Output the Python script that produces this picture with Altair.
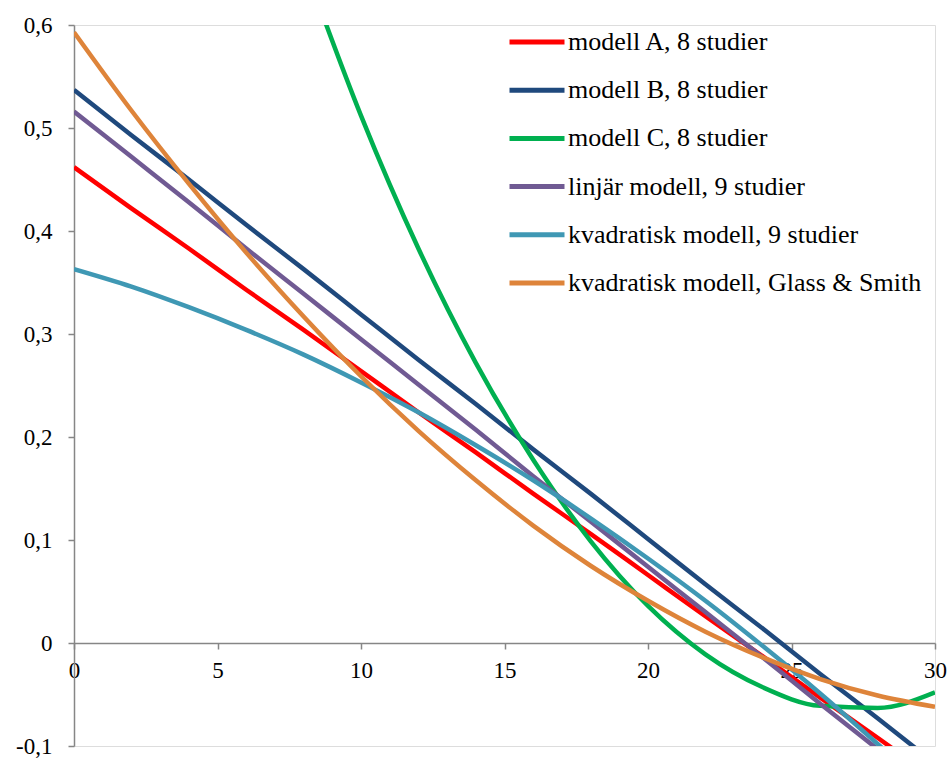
import altair as alt
import pandas as pd

x_vals = [0, 2, 4, 6, 8, 10, 12, 14, 16, 18, 20, 22, 24, 26, 28, 30]

modell_a = [0.462, 0.422, 0.383, 0.343, 0.304, 0.264, 0.224, 0.185, 0.145, 0.106, 0.066, 0.026, -0.013, -0.053, -0.092, -0.132]
modell_b = [0.537, 0.493, 0.450, 0.406, 0.363, 0.319, 0.275, 0.232, 0.188, 0.145, 0.101, 0.057, 0.014, -0.030, -0.073, -0.117]
x_c = [8, 10, 12, 14, 16, 18, 20, 22, 24, 26, 28, 30]
modell_c = [0.66, 0.512, 0.383, 0.272, 0.178, 0.099, 0.036, -0.011, -0.043, -0.061, -0.063, -0.048]
linjar = [0.516, 0.472, 0.428, 0.383, 0.339, 0.295, 0.251, 0.207, 0.162, 0.118, 0.074, 0.030, -0.014, -0.059, -0.103, -0.147]
kvadr9 = [0.363, 0.346, 0.326, 0.304, 0.280, 0.253, 0.224, 0.192, 0.158, 0.121, 0.082, 0.041, -0.003, -0.049, -0.098, -0.149]
glass = [0.593, 0.517, 0.446, 0.379, 0.317, 0.259, 0.206, 0.158, 0.114, 0.075, 0.041, 0.011, -0.014, -0.035, -0.051, -0.062]

names = [
    "modell A, 8 studier",
    "modell B, 8 studier",
    "modell C, 8 studier",
    "linjär modell, 9 studier",
    "kvadratisk modell, 9 studier",
    "kvadratisk modell, Glass & Smith",
]
colors = ["#FF0000", "#1F497D", "#00B050", "#705A93", "#3F98B4", "#DE843A"]

series = [
    (names[0], x_vals, modell_a),
    (names[1], x_vals, modell_b),
    (names[2], x_c, modell_c),
    (names[3], x_vals, linjar),
    (names[4], x_vals, kvadr9),
    (names[5], x_vals, glass),
]
rows = []
for i, (n, xs, ys) in enumerate(series):
    for xv, yv in zip(xs, ys):
        rows.append({"serie": n, "x": xv, "y": yv, "ord": i})
df = pd.DataFrame(rows)

W, H = 861, 721
zero_offset = -round(H * 0.1 / 0.7)

serif = "Liberation Serif, 'Times New Roman', 'DejaVu Serif', serif"

chart = alt.Chart(df).mark_line(strokeWidth=4.5, clip=True, interpolate="monotone").encode(
    x=alt.X("x:Q", scale=alt.Scale(domain=[0, 30], nice=False),
            axis=alt.Axis(values=[0, 5, 10, 15, 20, 25, 30], title=None, grid=False,
                          offset=zero_offset, domainColor="#868686", tickColor="#868686",
                          domainWidth=1.5, tickWidth=1.5, tickSize=6,
                          labelFont=serif, labelFontSize=23, labelColor="black",
                          labelPadding=10, labelFlush=False, labelOverlap=False)),
    y=alt.Y("y:Q", scale=alt.Scale(domain=[-0.1, 0.6], nice=False, zero=False),
            axis=alt.Axis(values=[-0.1, 0, 0.1, 0.2, 0.3, 0.4, 0.5, 0.6], title=None, grid=False,
                          domainColor="#868686", tickColor="#868686",
                          domainWidth=1.5, tickWidth=1.5, tickSize=6,
                          labelFont=serif, labelFontSize=23, labelColor="black",
                          labelPadding=16, labelOverlap=False, labelFlush=False,
                          labelExpr="datum.value == 0 ? '0' : replace(replace(format(datum.value, '.1f'), '.', ','), '\u2212', '-')")),
    color=alt.Color("serie:N", scale=alt.Scale(domain=names, range=colors),
                    legend=alt.Legend(orient="none", legendX=433, legendY=-13, title=None,
                                      symbolType="stroke", symbolSize=3025, symbolStrokeWidth=5,
                                      labelFont=serif, labelFontSize=26, labelColor="black",
                                      labelOffset=1, rowPadding=5.2, padding=0, labelLimit=0)),
    detail="ord:Q",
    order=alt.Order("x:Q"),
).properties(
    width=W, height=H,
    autosize=alt.AutoSizeParams(type="none"),
    padding={"left": 74, "top": 25, "right": 12, "bottom": 12},
).configure_view(stroke=None).configure(background="white")

chart.save("out.html", embed_options={"renderer": "svg", "actions": False})
